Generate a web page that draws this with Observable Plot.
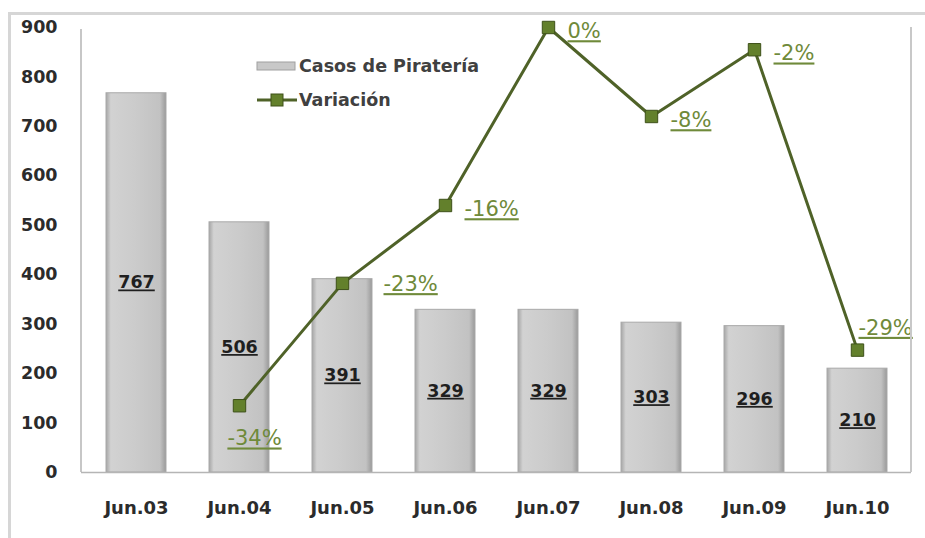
<!DOCTYPE html>
<html>
<head>
<meta charset="utf-8">
<script src="https://cdn.jsdelivr.net/npm/d3@7"></script>
<script src="https://cdn.jsdelivr.net/npm/@observablehq/plot@0.6"></script>
<style>
  html, body { margin: 0; padding: 0; background: #fff; }
  #wrap { position: relative; width: 925px; height: 538px; overflow: hidden; }
  #frame { position: absolute; left: 8px; top: 12px; right: -4px; bottom: -4px;
           border-top: 3px solid #d6d6d6; border-left: 3px solid #d6d6d6; pointer-events: none; }
  .ul text { text-decoration: underline; }
</style>
</head>
<body>
<div id="wrap"><div id="frame"></div></div>
<script>
// ---- data ----
const categories = ["Jun.03","Jun.04","Jun.05","Jun.06","Jun.07","Jun.08","Jun.09","Jun.10"];
const casos = [767, 506, 391, 329, 329, 303, 296, 210];
const variacionCats = ["Jun.04","Jun.05","Jun.06","Jun.07","Jun.08","Jun.09","Jun.10"];
const variacion = [-34, -23, -16, 0, -8, -2, -29];
const yTicks = [0,100,200,300,400,500,600,700,800,900];

const barData = categories.map((c, i) => ({cat: c, value: casos[i]}));
const lineData = variacionCats.map((c, i) => ({cat: c, pct: variacion[i]}));

// secondary (hidden) axis: -40% .. 0%  mapped onto primary 0 .. 900
const sec = d3.scaleLinear([-40, 0], [0, 900]);

const FONT = "DejaVu Sans, sans-serif";
const LINE = "#4f6228";
const LBL = "#6f8a3a";

const pctMark = (filter, opts) => Plot.text(lineData, {
  filter, x: "cat", y: d => sec(d.pct), text: d => d.pct + "%",
  fill: LBL, fontSize: 21, className: "ul", ...opts
});

const plot = Plot.plot({
  width: 925, height: 538,
  marginLeft: 81, marginRight: 14, marginTop: 27, marginBottom: 66,
  style: {fontFamily: FONT, background: "transparent", overflow: "visible"},
  x: {domain: categories, paddingInner: 0.42, paddingOuter: 0.21, label: null},
  y: {domain: [0, 900], label: null},
  marks: [
    Plot.barY(barData, {x: "cat", y: "value", fill: "url(#barGrad)", stroke: "#a9a9a9", strokeWidth: 1}),
    Plot.ruleY([0], {stroke: "#b5b5b5", strokeWidth: 1.5}),
    Plot.axisY({ticks: yTicks, tickSize: 0, tickPadding: 24, fontSize: 17.5, fontWeight: "bold", fill: "#2b2b2b"}),
    Plot.axisX({tickSize: 0, tickPadding: 29, fontSize: 18, fontWeight: "bold", fill: "#2b2b2b"}),
    Plot.text(barData, {x: "cat", y: d => d.value / 2, text: d => String(d.value), fontSize: 17.5, fontWeight: "bold", fill: "#1f1f1f", className: "ul"}),
    Plot.line(lineData, {x: "cat", y: d => sec(d.pct), stroke: LINE, strokeWidth: 3}),
    Plot.dot(lineData, {x: "cat", y: d => sec(d.pct), symbol: "square", r: 7, fill: "#63802c", stroke: "#3e5119", strokeWidth: 1}),
    pctMark(d => d.cat === "Jun.04", {textAnchor: "middle", dx: 15, dy: 33}),
    pctMark(d => d.cat === "Jun.05", {textAnchor: "start", dx: 41, dy: 1}),
    pctMark(d => ["Jun.06","Jun.07","Jun.08","Jun.09"].includes(d.cat), {textAnchor: "start", dx: 19, dy: 4}),
    pctMark(d => d.cat === "Jun.10", {textAnchor: "start", dx: 1, dy: -22})
  ]
});

// gradient + plot-area borders + legend
const svg = d3.select(plot);
const defs = svg.insert("defs", ":first-child");
const g = defs.append("linearGradient").attr("id", "barGrad").attr("x1", "0").attr("x2", "1").attr("y1", "0").attr("y2", "0");
[[0, "#a6a6a6"], [0.08, "#d2d2d2"], [0.5, "#cbcbcb"], [0.9, "#c2c2c2"], [1, "#9a9a9a"]]
  .forEach(([o, c]) => g.append("stop").attr("offset", o).attr("stop-color", c));

const ys = plot.scale("y");
const yTop = ys.apply(900), yBot = ys.apply(0);
svg.append("line").attr("x1", 81).attr("x2", 81).attr("y1", yTop + 2).attr("y2", yBot).attr("stroke", "#b5b5b5").attr("stroke-width", 1.5);
svg.append("line").attr("x1", 911).attr("x2", 911).attr("y1", yTop).attr("y2", yBot).attr("stroke", "#c8c8c8").attr("stroke-width", 2);

const leg = svg.append("g").attr("font-family", FONT).attr("font-size", 17.5).attr("font-weight", "bold")
  .attr("fill", "#404040").attr("text-anchor", "start");
leg.append("rect").attr("x", 257).attr("y", 62).attr("width", 38).attr("height", 8).attr("fill", "#c8c8c8").attr("stroke", "#a0a0a0");
leg.append("text").attr("x", 299).attr("y", 72).text("Casos de Piratería");
leg.append("line").attr("x1", 257).attr("x2", 297).attr("y1", 100).attr("y2", 100).attr("stroke", LINE).attr("stroke-width", 3);
leg.append("rect").attr("x", 271).attr("y", 94).attr("width", 12).attr("height", 12).attr("fill", "#63802c").attr("stroke", "#3e5119");
leg.append("text").attr("x", 299).attr("y", 106).text("Variación");

document.getElementById("wrap").prepend(plot);
</script>
</body>
</html>
